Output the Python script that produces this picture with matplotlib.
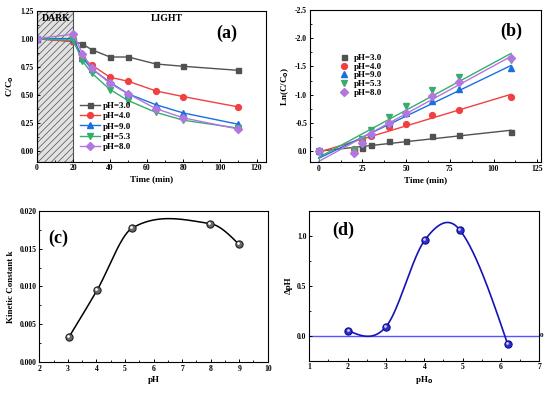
import numpy as np
import matplotlib
matplotlib.use("Agg")
import matplotlib.pyplot as plt
from matplotlib.ticker import MultipleLocator, FormatStrFormatter
import matplotlib.transforms as mtrans

plt.rcParams['font.family'] = ['Liberation Serif', 'DejaVu Serif']
plt.rcParams['font.weight'] = 'bold'
plt.rcParams['axes.labelweight'] = 'bold'
plt.rcParams['hatch.color'] = '#8a8a8a'
plt.rcParams['hatch.linewidth'] = 0.5

# ---------------- data ----------------
time_a = [0, 20, 25, 30, 40, 50, 65, 80, 110]
labels = ['pH=3.0', 'pH=4.0', 'pH=9.0', 'pH=5.3', 'pH=8.0']
cc_ph30 = [1.00, 0.975, 0.952, 0.902, 0.836, 0.836, 0.774, 0.753, 0.717]
cc_ph40 = [1.00, 0.975, 0.830, 0.765, 0.655, 0.619, 0.533, 0.482, 0.390]
cc_ph90 = [1.00, 1.000, 0.830, 0.730, 0.610, 0.506, 0.410, 0.336, 0.235]
cc_ph53 = [1.00, 0.985, 0.800, 0.693, 0.545, 0.446, 0.342, 0.271, 0.200]
cc_ph80 = [1.00, 1.040, 0.866, 0.738, 0.600, 0.506, 0.375, 0.292, 0.192]

time_b = [0, 20, 25, 30, 40, 50, 65, 80, 110]
ln_ph30 = [0.0, -0.03, -0.05, -0.10, -0.17, -0.17, -0.26, -0.28, -0.33]
ln_ph40 = [0.0, -0.03, -0.20, -0.27, -0.43, -0.48, -0.64, -0.73, -0.95]
ln_ph90 = [0.0, 0.00, -0.18, -0.30, -0.49, -0.68, -0.89, -1.10, -1.48]
ln_ph53 = [0.0, -0.02, -0.22, -0.37, -0.60, -0.80, -1.08, -1.31, -1.62]
ln_ph80 = [0.0, 0.03, -0.15, -0.30, -0.50, -0.67, -0.98, -1.23, -1.65]

ph_c = [3.05, 4.02, 5.25, 7.98, 8.98]
k_c = [0.0034, 0.0095, 0.0177, 0.0183, 0.0156]

ph0_d = [2.02, 3.00, 4.02, 4.92, 6.17]
dph_d = [0.05, 0.09, 0.96, 1.06, -0.08]

colors = ['#515151', '#F14040', '#1A6FDF', '#37AD6B', '#B177DE']
markers = ['s', 'o', '^', 'v', 'D']
msizes = [3.6, 4.2, 4.2, 4.2, 3.8]


def smooth_curve(x, y, xs):
    """Cubic Hermite (Catmull-Rom type) curve through the points."""
    x = np.asarray(x, float); y = np.asarray(y, float)
    n = len(x)
    d = np.diff(y) / np.diff(x)
    m = np.zeros(n)
    for i in range(1, n - 1):
        m[i] = (y[i + 1] - y[i - 1]) / (x[i + 1] - x[i - 1])
    m[0] = (3 * d[0] - m[1]) / 2
    m[-1] = (3 * d[-1] - m[-2]) / 2
    out = np.empty_like(xs)
    for j, t in enumerate(xs):
        i = min(max(np.searchsorted(x, t) - 1, 0), n - 2)
        h = x[i + 1] - x[i]
        s = (t - x[i]) / h
        h00 = 2 * s ** 3 - 3 * s ** 2 + 1
        h10 = s ** 3 - 2 * s ** 2 + s
        h01 = -2 * s ** 3 + 3 * s ** 2
        h11 = s ** 3 - s ** 2
        out[j] = h00 * y[i] + h10 * h * m[i] + h01 * y[i + 1] + h11 * h * m[i + 1]
    return out


fig = plt.figure(figsize=(5.5, 3.95), dpi=100)
ax_a = fig.add_axes([0.0667, 0.5906, 0.4164, 0.3823])
ax_b = fig.add_axes([0.5636, 0.5891, 0.4195, 0.3856])
ax_c = fig.add_axes([0.0715, 0.0828, 0.4153, 0.3838])
ax_d = fig.add_axes([0.5624, 0.0868, 0.4182, 0.3798])

tick_fs = 5.5
lab_fs = 6.5

for ax in (ax_a, ax_b, ax_c, ax_d):
    for s in ax.spines.values():
        s.set_linewidth(0.8)
    ax.tick_params(direction='in', labelsize=tick_fs, width=0.7, length=2.5, pad=2)
    ax.tick_params(which='minor', direction='in', width=0.6, length=1.5)

# ---------------- (a) ----------------
ax_a.axvspan(0, 20, facecolor='#e2e2e2', edgecolor='#505050', hatch='/////', linewidth=0.8, zorder=0)
series_a = [cc_ph30, cc_ph40, cc_ph90, cc_ph53, cc_ph80]
for ys, c, m, ms, lb in zip(series_a, colors, markers, msizes, labels):
    ax_a.plot(time_a, ys, color=c, marker=m, markersize=ms, linewidth=1.0, label=lb)
ax_a.set_xlim(0, 125)
ax_a.set_ylim(-0.1, 1.25)
ax_a.xaxis.set_major_locator(MultipleLocator(20))
ax_a.xaxis.set_minor_locator(MultipleLocator(10))
ax_a.yaxis.set_major_locator(MultipleLocator(0.25))
ax_a.yaxis.set_minor_locator(MultipleLocator(0.125))
ax_a.yaxis.set_major_formatter(FormatStrFormatter('%.2f'))
ax_a.set_xlabel('Time (min)', fontsize=lab_fs, labelpad=2)
ax_a.set_ylabel('C/C$_\\mathbf{0}$', fontsize=lab_fs, labelpad=3)
ax_a.text(10.5, 1.18, 'DARK', ha='center', va='center', fontsize=7, fontweight='bold')
ax_a.text(71, 1.18, 'LIGHT', ha='center', va='center', fontsize=7, fontweight='bold')
ax_a.text(104, 1.05, '(a)', ha='center', va='center', fontsize=13, fontweight='bold')
ax_a.legend(loc='upper left', bbox_to_anchor=(0.16, 0.44), frameon=False,
            prop={'size': 6.5, 'weight': 'bold'}, labelspacing=0.22,
            handlelength=2.2, handletextpad=0.4, borderpad=0.2)

# ---------------- (b) ----------------
series_b = [ln_ph30, ln_ph40, ln_ph90, ln_ph53, ln_ph80]
xfit = np.array([0.0, 110.0])
for ys, c, m, ms, lb in zip(series_b, colors, markers, msizes, labels):
    ax_b.plot(time_b, ys, linestyle='none', color=c, marker=m, markersize=ms, label=lb)
    p = np.polyfit(time_b, ys, 1)
    ax_b.plot(xfit, np.polyval(p, xfit), color=c, linewidth=1.0)
ax_b.set_xlim(-5, 127)
ax_b.set_ylim(0.2, -2.5)
ax_b.xaxis.set_major_locator(MultipleLocator(25))
ax_b.xaxis.set_minor_locator(MultipleLocator(12.5))
ax_b.yaxis.set_major_locator(MultipleLocator(0.5))
ax_b.yaxis.set_minor_locator(MultipleLocator(0.25))
ax_b.yaxis.set_major_formatter(FormatStrFormatter('%.1f'))
ax_b.set_xlabel('Time (min)', fontsize=lab_fs, labelpad=2)
ax_b.set_ylabel('Ln(C/C$_\\mathbf{0}$)', fontsize=lab_fs, labelpad=3)
ax_b.text(110, -2.13, '(b)', ha='center', va='center', fontsize=13, fontweight='bold')
ax_b.legend(loc='upper left', bbox_to_anchor=(0.10, 0.755), frameon=False,
            prop={'size': 6.5, 'weight': 'bold'}, labelspacing=0.05,
            handlelength=1.0, handletextpad=0.6, borderpad=0.2)

# ---------------- (c) ----------------
xs_c = np.linspace(ph_c[0], ph_c[-1], 300)
ax_c.plot(xs_c, smooth_curve(ph_c, k_c, xs_c), color='black', linewidth=1.1)
ax_c.plot(ph_c, k_c, linestyle='none', marker='o', markersize=5.2,
          markerfacecolor='#6a6a6a', markeredgecolor='#202020', markeredgewidth=0.8)
off = mtrans.offset_copy(ax_c.transData, fig=fig, x=-0.6, y=0.6, units='points')
ax_c.plot(ph_c, k_c, linestyle='none', marker='o', markersize=2.0,
          markerfacecolor='white', markeredgewidth=0, transform=off)
ax_c.set_xlim(2, 10)
ax_c.set_ylim(0, 0.02)
ax_c.xaxis.set_major_locator(MultipleLocator(1))
ax_c.xaxis.set_minor_locator(MultipleLocator(0.5))
ax_c.yaxis.set_major_locator(MultipleLocator(0.005))
ax_c.yaxis.set_minor_locator(MultipleLocator(0.0025))
ax_c.yaxis.set_major_formatter(FormatStrFormatter('%.3f'))
ax_c.set_xlabel('pH', fontsize=lab_fs, labelpad=2)
ax_c.set_ylabel('Kinetic Constant k', fontsize=lab_fs, labelpad=3)
ax_c.text(2.67, 0.0164, '(c)', ha='center', va='center', fontsize=13, fontweight='bold')

# ---------------- (d) ----------------
ax_d.axhline(0, color='#5555ff', linewidth=1.0, zorder=1)
xs_d = np.linspace(ph0_d[0], ph0_d[-1], 300)
ax_d.plot(xs_d, smooth_curve(ph0_d, dph_d, xs_d), color='#1414b4', linewidth=1.2, zorder=2)
ax_d.plot(ph0_d, dph_d, linestyle='none', marker='o', markersize=5.2, zorder=3,
          markerfacecolor='#3030d0', markeredgecolor='#0a0a90', markeredgewidth=0.8)
off_d = mtrans.offset_copy(ax_d.transData, fig=fig, x=-0.6, y=0.6, units='points')
ax_d.plot(ph0_d, dph_d, linestyle='none', marker='o', markersize=2.0, zorder=4,
          markerfacecolor='#d0d0ff', markeredgewidth=0, transform=off_d)
ax_d.set_xlim(1, 7)
ax_d.set_ylim(-0.25, 1.25)
ax_d.xaxis.set_major_locator(MultipleLocator(1))
ax_d.xaxis.set_minor_locator(MultipleLocator(0.5))
ax_d.yaxis.set_major_locator(MultipleLocator(0.5))
ax_d.yaxis.set_minor_locator(MultipleLocator(0.25))
ax_d.yaxis.set_major_formatter(FormatStrFormatter('%.1f'))
ax_d.set_xlabel('pH$_\\mathbf{0}$', fontsize=lab_fs, labelpad=2)
ax_d.set_ylabel('ΔpH', fontsize=lab_fs, labelpad=3)
ax_d.text(1.89, 1.056, '(d)', ha='center', va='center', fontsize=13, fontweight='bold')
ax_d.text(7.0, 0.0, '0', ha='left', va='center', fontsize=5, fontweight='bold')

for ax in (ax_a, ax_b, ax_c, ax_d):
    for lbl in ax.get_xticklabels() + ax.get_yticklabels():
        lbl.set_fontweight('bold')

fig.savefig('out.png', dpi=100)
